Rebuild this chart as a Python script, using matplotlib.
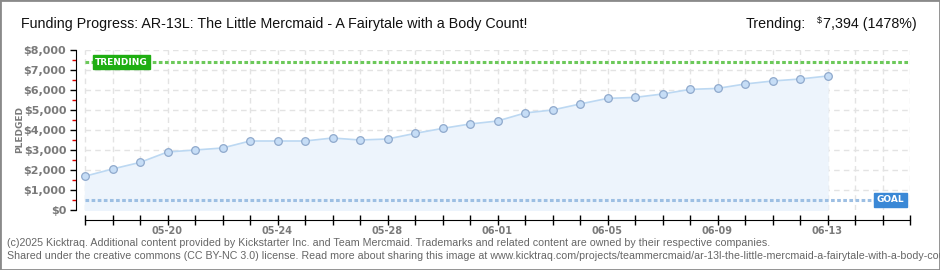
import matplotlib
matplotlib.use('Agg')
import matplotlib.pyplot as plt
import matplotlib.dates as mdates
from matplotlib.ticker import MultipleLocator, FixedLocator, FuncFormatter
from matplotlib.patches import Rectangle
import pandas as pd

# data
days = pd.date_range('2025-05-17', '2025-06-13', freq='D')
pledged = [1690, 2050, 2380, 2900, 3000, 3100, 3450, 3450, 3450, 3600,
           3500, 3550, 3830, 4080, 4300, 4450, 4850, 5000, 5300, 5580,
           5630, 5800, 6030, 6080, 6300, 6450, 6550, 6700]
goal = 500
trending = 7394
axis_end = pd.Timestamp('2025-06-16')
label_days = ['05-20', '05-24', '05-28', '06-01', '06-05', '06-09', '06-13']

title = "Funding Progress: AR-13L: The Little Mercmaid - A Fairytale with a Body Count!"
footer1 = ("(c)2025 Kicktraq. Additional content provided by Kickstarter Inc. and Team Mercmaid. "
           "Trademarks and related content are owned by their respective companies.")
footer2 = ("Shared under the creative commons (CC BY-NC 3.0) license. Read more about sharing this image at "
           "www.kicktraq.com/projects/teammercmaid/ar-13l-the-little-mercmaid-a-fairytale-with-a-body-count/")

FONT = ['Liberation Sans', 'DejaVu Sans']
GRAY = '#7a7a7a'


def main():
    fig = plt.figure(figsize=(9.4, 2.7), dpi=100)
    fig.patch.set_facecolor('white')
    fig.add_artist(Rectangle((0, 0), 1, 1, transform=fig.transFigure, fill=False,
                             edgecolor='#8a8a8a', linewidth=2))

    ax = fig.add_axes([76 / 940, 60 / 270, 834 / 940, 160 / 270])
    x0 = mdates.date2num(days[0])
    x_end = mdates.date2num(axis_end)
    ax.set_xlim(x0 - 9 / 27.5, x_end)
    ax.set_ylim(0, 8000)

    # grid
    all_days = pd.date_range(days[0], axis_end, freq='D')
    ax.vlines(all_days, 0, 8000, colors='#e3e3e3', linewidth=1, linestyles=(0, (4, 3)), zorder=0)
    ax.hlines(range(1000, 8001, 1000), days[0], axis_end, colors='#e3e3e3', linewidth=1,
              linestyles=(0, (4, 3)), zorder=0)

    # series
    ax.fill_between(days, pledged, 0, color='#edf4fc', zorder=1)
    ax.plot(days, pledged, color='#bcd8f2', linewidth=1.2, zorder=3)
    ax.plot(days, pledged, 'o', markersize=5.5, markerfacecolor='#c6ddf6',
            markeredgecolor='#8fa9cc', markeredgewidth=0.9, zorder=4)

    # trending and goal lines
    ax.hlines(trending, days[0], axis_end, colors='#6cc95a', linewidth=2.2,
              linestyles=(0, (1.2, 0.8)), zorder=2)
    ax.hlines(goal, days[0], axis_end, colors='#9dbfe3', linewidth=2.2,
              linestyles=(0, (1.2, 0.8)), zorder=2)
    ax.text(days[0] + pd.Timedelta(hours=9), trending, 'TRENDING', color='white', fontsize=6.5,
            fontweight='bold', family='DejaVu Sans', va='center', ha='left', zorder=5,
            bbox=dict(boxstyle='square,pad=0.25', facecolor='#1fae12', edgecolor='#1fae12'))
    ax.text(axis_end - pd.Timedelta(hours=5), goal, 'GOAL', color='white', fontsize=6.5,
            fontweight='bold', family='DejaVu Sans', va='center', ha='right', zorder=5,
            bbox=dict(boxstyle='square,pad=0.25', facecolor='#3a88d6', edgecolor='#3a88d6'))

    # spines
    for s in ['top', 'right']:
        ax.spines[s].set_visible(False)
    ax.spines['left'].set_color('black')
    ax.spines['bottom'].set_position(('outward', 7))
    ax.spines['bottom'].set_bounds(x0, x_end)

    ax.yaxis.set_major_locator(MultipleLocator(1000))
    ax.yaxis.set_minor_locator(MultipleLocator(500))
    ax.yaxis.set_major_formatter(FuncFormatter(lambda v, p: '${:,.0f}'.format(v)))
    ax.tick_params(axis='y', which='major', length=4, width=1, color='black',
                   labelsize=8, labelcolor=GRAY, pad=3)
    ax.tick_params(axis='y', which='minor', length=3, width=1, color='#e00000')

    ax.xaxis.set_major_locator(FixedLocator(mdates.date2num(all_days)))
    ax.xaxis.set_major_formatter(FuncFormatter(
        lambda v, p: mdates.num2date(v).strftime('%m-%d')
        if mdates.num2date(v).strftime('%m-%d') in label_days else ''))
    ax.tick_params(axis='x', which='major', direction='inout', length=7, width=1,
                   color='black', labelsize=7, labelcolor=GRAY, pad=1)
    for lab in ax.get_yticklabels() + ax.get_xticklabels():
        lab.set_fontweight('bold')

    fig.text(20 / 940, 1 - 130 / 270, 'PLEDGED', rotation=90, fontsize=6.5, color=GRAY,
             ha='center', va='center', fontweight='bold')

    # header
    fig.text(21 / 940, 1 - 24 / 270, title, fontsize=10.3, family=FONT, color='#111111',
             ha='left', va='center')
    fig.text(806 / 940, 1 - 24 / 270, 'Trending:', fontsize=10.3, family=FONT,
             color='#111111', ha='right', va='center')
    fig.text(822 / 940, 1 - 20 / 270, '$', fontsize=6.5, family=FONT, color='#111111',
             ha='right', va='center')
    fig.text(917 / 940, 1 - 24 / 270, '7,394 (1478%)', fontsize=10.3, family=FONT,
             color='#111111', ha='right', va='center')

    # footer
    fig.text(7 / 940, 1 - 243 / 270, footer1, fontsize=7.7, family=FONT, color='#666666',
             ha='left', va='center')
    fig.text(7 / 940, 1 - 256 / 270, footer2, fontsize=7.7, family=FONT, color='#666666',
             ha='left', va='center')

    fig.savefig('out.png', dpi=100)


if __name__ == '__main__':
    main()
